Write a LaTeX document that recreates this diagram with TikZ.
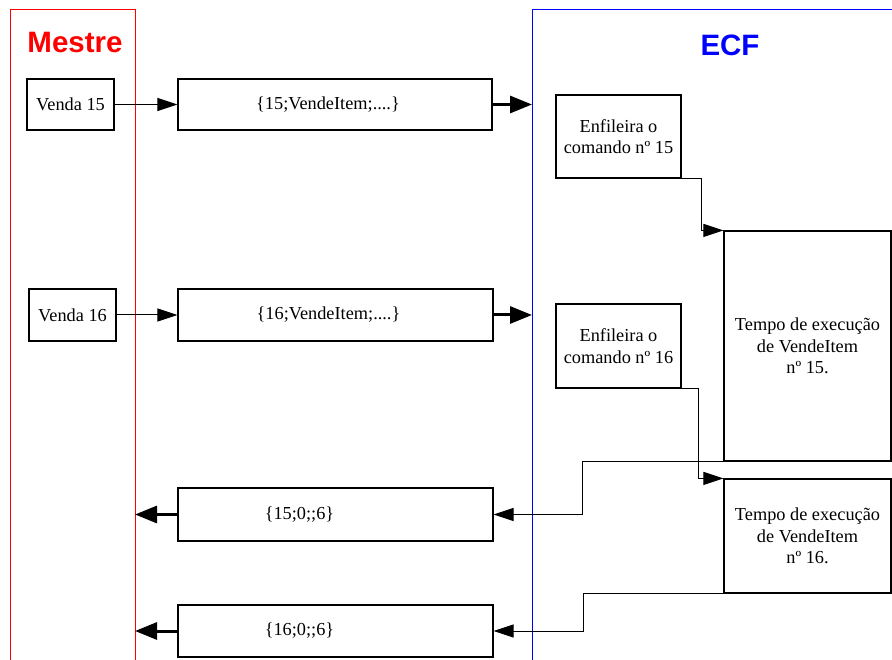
\documentclass[tikz,border=0pt]{standalone}
\usepackage{fontspec}
\setmainfont{Liberation Serif}
\newfontfamily\titlefont{Liberation Sans}
\usetikzlibrary{arrows.meta}
\begin{document}
\begin{tikzpicture}[x=1pt,y=-1pt,line cap=butt,line join=miter,
 font=\fontsize{18.3}{21.5}\selectfont,
 caixa/.style={draw=black,line width=1.2pt,inner sep=0pt,align=center},
 fino/.style={draw=black,line width=1pt,-{Triangle[length=20pt,width=13pt]}},
 grosso/.style={draw=black,line width=3pt,-{Triangle[length=22pt,width=17pt]}},
 titulo/.style={font=\titlefont\bfseries\fontsize{29.5}{34}\selectfont}]
\useasboundingbox (0,0) rectangle (892,660);
% lanes: Mestre (red) and ECF (blue)
\draw[red,line width=1pt] (10,660) |- (135,10) -- (135,660);
\draw[blue,line width=1pt] (532,660) |- (892,10);
\coordinate (mst) at (135,10);
\coordinate (ecf) at (532,10);
\node[titulo,text=red] (mtit) at (75,43) {Mestre};
\node[titulo,text=blue] (etit) at (730,45) {ECF};
% command 15
\node[caixa,minimum width=87pt,minimum height=51pt] (v15) at (70.5,104.5) {Venda 15};
\node[caixa,minimum width=314pt,minimum height=51pt] (m15) at (335,104.5) {\{15;VendeItem;....\}\hspace*{14pt}};
\node[caixa,minimum width=125pt,minimum height=83pt] (e15) at (618.5,136.5) {Enfileira o\\comando nº 15};
\node[caixa,minimum width=167pt,minimum height=230pt] (t15) at (807.5,346) {Tempo de execução\\de VendeItem\\nº 15.};
% command 16
\node[caixa,minimum width=87pt,minimum height=52pt] (v16) at (72.5,315) {Venda 16};
\node[caixa,minimum width=315pt,minimum height=52pt] (m16) at (335.5,315) {\{16;VendeItem;....\}\hspace*{14pt}};
\node[caixa,minimum width=125pt,minimum height=84pt] (e16) at (618.5,346) {Enfileira o\\comando nº 16};
\node[caixa,minimum width=167pt,minimum height=114pt] (t16) at (807.5,536) {Tempo de execução\\de VendeItem\\nº 16.};
% replies
\node[caixa,minimum width=315pt,minimum height=53pt] (r15) at (335.5,514.5) {\{15;0;;6\}\hspace*{72pt}};
\node[caixa,minimum width=315pt,minimum height=52pt] (r16) at (335.5,631) {\{16;0;;6\}\hspace*{72pt}};
% connectors
\draw[fino] (v15) -- (m15);
\draw[fino] (v16) -- (m16);
\draw[grosso] (m15.east) -- (m15.east -| ecf);
\draw[grosso] (m16.east) -- (m16.east -| ecf);
\draw[fino] (e15.south east) -- ++(20,0) |- (t15.north west);
\draw[fino] (e16.south east) -- ++(17,0) |- (t16.north west);
\draw[fino] (t15.south west) -- ++(-141,0) |- (r15.east);
\draw[fino] (t16.south west) -- ++(-140,0) |- (r16.east);
\draw[grosso] (r15.west) -- (r15.west -| mst);
\draw[grosso] (r16.west) -- (r16.west -| mst);
\end{tikzpicture}
\end{document}
